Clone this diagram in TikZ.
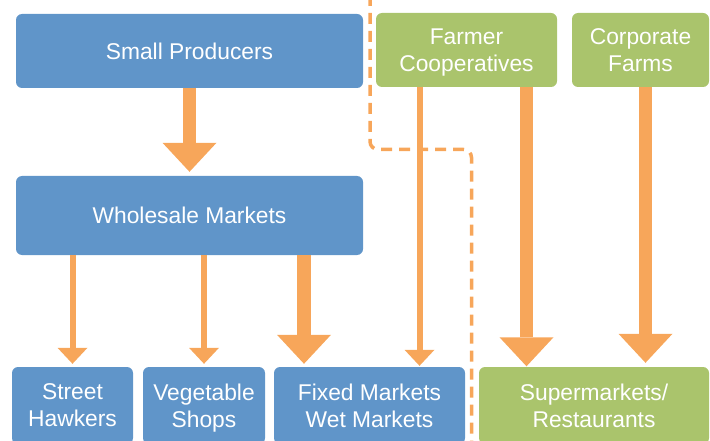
\documentclass[tikz,border=0pt]{standalone}
\usepackage{fontspec}
\setmainfont{Liberation Sans}
\usetikzlibrary{arrows.meta}
\definecolor{boxblue}{RGB}{96,149,201}
\definecolor{boxgreen}{RGB}{170,196,108}
\definecolor{flow}{RGB}{247,166,90}
\tikzset{
  x=1pt, y=-1pt,
  box/.style={rounded corners=6pt, inner sep=0pt, text=white, align=center,
    text depth=0pt, font=\fontsize{22.8}{27}\selectfont},
  bluebox/.style={box, fill=boxblue},
  greenbox/.style={box, fill=boxgreen},
  thinflow/.style={draw=flow, line width=6pt,
    -{Triangle[width=30pt,length=16pt,line width=0pt]}},
  thickflow/.style={draw=flow, line width=13.5pt,
    -{Triangle[width=54pt,length=29pt,line width=0pt]}},
  divider/.style={draw=flow, line width=3.5pt, dash pattern=on 11pt off 7pt,
    rounded corners=8pt}
}
\begin{document}
\begin{tikzpicture}
\useasboundingbox (0,0) rectangle (710,441);
% upper row
\node[bluebox, minimum width=347pt, minimum height=74pt] (sp) at (189.5,51) {Small Producers};
\node[bluebox, minimum width=347pt, minimum height=79pt] (wm) at (189.5,215.5) {Wholesale Markets};
\node[greenbox, minimum width=181pt, minimum height=74pt] (fc) at (466.5,50) {Farmer\\Cooperatives};
\node[greenbox, minimum width=137pt, minimum height=74pt] (cf) at (640.5,50) {Corporate\\Farms};
% retail outlets
\node[bluebox, minimum width=121pt, minimum height=77pt] (sh) at (72.5,405.5) {Street\\Hawkers};
\node[bluebox, minimum width=122pt, minimum height=77pt] (vs) at (204,405.5) {Vegetable\\Shops};
\node[bluebox, minimum width=191pt, minimum height=77pt] (fm) at (369.5,405.5) {Fixed Markets\\Wet Markets};
\node[greenbox, minimum width=230pt, minimum height=77pt] (sm) at (594,405.5) {Supermarkets/\\Restaurants};
% channel divider
\coordinate (d0) at (370,-5);
\coordinate (d1) at (370,149.5);
\coordinate (d2) at (471.5,149.5);
\coordinate (d3) at (471.5,446);
\draw[divider] (d0) -- (d1) -- (d2) -- (d3);
% flows
\draw[thickflow, shorten >=4pt] (sp.south) -- (wm.north);
\draw[thinflow, shorten >=3pt] (sh.north |- wm.south) -- (sh.north);
\draw[thinflow, shorten >=3pt] (vs.north |- wm.south) -- (vs.north);
\draw[thickflow, shorten >=3pt] ([xshift=-65.5pt]fm.north |- wm.south) -- ([xshift=-65.5pt]fm.north);
\draw[thinflow, shorten >=1pt] ([xshift=-47pt]fc.south) -- ([xshift=50pt]fm.north);
\draw[thickflow, shorten >=0.5pt] ([xshift=60pt]fc.south) -- ([xshift=-67.5pt]sm.north);
\draw[thickflow, shorten >=4pt] ([xshift=5pt]cf.south) -- ([xshift=51.5pt]sm.north);
\end{tikzpicture}
\end{document}
